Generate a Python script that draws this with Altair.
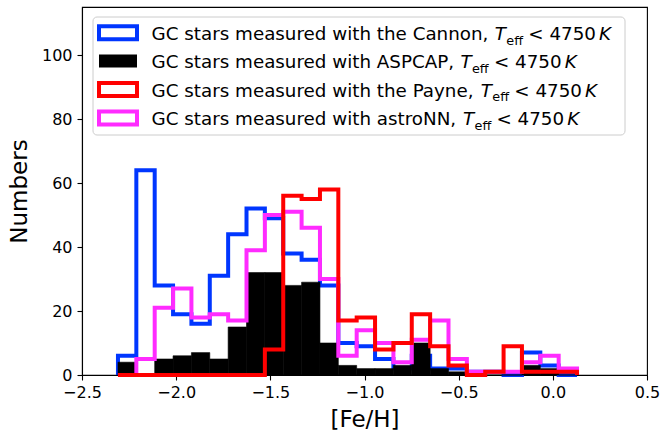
import altair as alt
import pandas as pd
import numpy as np

# ---------------- data ----------------
bin_start = -2.309
bin_width = 0.0975
n_bins = 25

cannon  = [6, 64, 28, 19, 16, 31, 44, 52, 49, 38, 36, 28, 10, 9, 5, 2, 6, 2, 2, 1, 1, 0, 7, 3, 0]
aspcap  = [4, 0, 5, 6, 7, 5, 15, 32, 32, 28, 29, 10, 3, 2, 2, 3, 10, 2, 1, 0, 0, 0, 3, 2, 0]
payne   = [0, 0, 0, 0, 0, 0, 0, 0, 8, 56, 55, 58, 17, 18, 8, 10, 19, 9, 3, 0, 1, 9, 1, 1, 1]
astronn = [0, 5, 21, 27, 18, 19, 17, 39, 50, 51, 46, 30, 6, 14, 10, 4, 11, 17, 5, 1, 1, 1, 4, 6, 2]

labels = [
    "GC stars measured with the Cannon,",
    "GC stars measured with ASPCAP,",
    "GC stars measured with the Payne,",
    "GC stars measured with astroNN,",
]
x_ticks = [-2.5, -2.0, -1.5, -1.0, -0.5, 0.0, 0.5]
y_ticks = [0, 20, 40, 60, 80, 100]

# ---------------- styles ----------------
BLUE = "#0036ff"
RED = "#ff0000"
MAGENTA = "#ff2bff"
FONT = "DejaVu Sans"

edges = bin_start + bin_width * np.arange(n_bins + 1)

xscale = alt.Scale(domain=[-2.5, 0.5], nice=False, zero=False)
yscale = alt.Scale(domain=[0, 115], nice=False)
xaxis = alt.Axis(values=x_ticks, format=".1f", labelExpr="replace(datum.label, '-', '\u2212')",
                 labelFlush=False, labelPadding=4, titlePadding=8, labelOverlap=False)
yaxis = alt.Axis(values=y_ticks, format="d", labelPadding=5, titlePadding=10)


def X(field):
    return alt.X(field, type="quantitative", scale=xscale, axis=xaxis, title="[Fe/H]")


def Y(field):
    return alt.Y(field, type="quantitative", scale=yscale, axis=yaxis, title="Numbers")


def step_df(counts):
    xs = [edges[0]] + list(edges[:-1]) + [edges[-1]]
    ys = [0] + list(counts) + [0]
    return pd.DataFrame({"x": xs, "y": ys, "i": list(range(len(xs)))})


def step_layer(counts, color):
    return alt.Chart(step_df(counts)).mark_line(
        interpolate="step-after", color=color, strokeWidth=4,
        strokeJoin="miter", strokeCap="butt"
    ).encode(x=X("x"), y=Y("y"), order=alt.Order("i:Q"))


bars_df = pd.DataFrame({"l": edges[:-1], "r": edges[1:], "c": aspcap})
black_layer = alt.Chart(bars_df).mark_rect(fill="black", stroke="black", strokeWidth=0.6).encode(
    x=X("l"), x2="r", y=Y("c"), y2=alt.datum(0)
)

layers = [
    step_layer(cannon, BLUE),
    black_layer,
    step_layer(astronn, MAGENTA),
    step_layer(payne, RED),
]

# ---------------- legend (layout in view pixels) ----------------
DW = {' ': 651, ',': 651, 'a': 1255, 'c': 1126, 'd': 1300, 'e': 1260, 'h': 1298, 'i': 569,
      'm': 1995, 'n': 1298, 'o': 1253, 'r': 842, 's': 1067, 't': 803, 'u': 1298, 'w': 1675,
      'y': 1212, 'p': 1300, 'A': 1401, 'C': 1430, 'G': 1577, 'N': 1532, 'P': 1235, 'S': 1300,
      'f': 721, '<': 1716, '4': 1303, '7': 1303, '5': 1303, '0': 1303, 'T': 1251, 'K': 1343}


def tw(s, size):
    return sum(DW.get(ch, 1250) for ch in s) / 2048.0 * size


dummy = pd.DataFrame({"d": [0]})
LF = 18.3
SUB = 12.8
box = alt.Chart(dummy).mark_rect(fill="white", fillOpacity=0.8, stroke="#cccccc",
                                 strokeWidth=1, cornerRadius=4).encode(
    x=alt.value(11), x2=alt.value(543), y=alt.value(10), y2=alt.value(128))
layers.append(box)

patch_styles = [
    dict(fill="white", stroke=BLUE, strokeWidth=4),
    dict(fill="black", strokeWidth=0),
    dict(fill="white", stroke=RED, strokeWidth=4),
    dict(fill="white", stroke=MAGENTA, strokeWidth=4),
]

text_x = 69.6
for r, lab in enumerate(labels):
    base = 33 + 28.4 * r
    pc = base - 7.3
    layers.append(alt.Chart(dummy).mark_rect(**patch_styles[r]).encode(
        x=alt.value(17), x2=alt.value(55), y=alt.value(pc - 6.5), y2=alt.value(pc + 6.5)))
    layers.append(alt.Chart(dummy).mark_text(
        text=lab, align="left", baseline="alphabetic", font=FONT, fontSize=LF, color="black"
    ).encode(x=alt.value(text_x), y=alt.value(base)))
    tx = text_x + tw(lab + " ", LF)
    layers.append(alt.Chart(dummy).mark_text(
        text="T", align="left", baseline="alphabetic", font=FONT, fontSize=LF,
        fontStyle="italic", color="black"
    ).encode(x=alt.value(tx), y=alt.value(base)))
    ex = tx + tw("T", LF) + 0.3
    layers.append(alt.Chart(dummy).mark_text(
        text="eff", align="left", baseline="alphabetic", font=FONT, fontSize=SUB, color="black"
    ).encode(x=alt.value(ex), y=alt.value(base + 4.5)))
    lx = ex + tw("eff", SUB) + 0.278 * LF
    layers.append(alt.Chart(dummy).mark_text(
        text="< 4750", align="left", baseline="alphabetic", font=FONT, fontSize=LF, color="black"
    ).encode(x=alt.value(lx), y=alt.value(base)))
    kx = lx + tw("< 4750", LF) + 0.167 * LF
    layers.append(alt.Chart(dummy).mark_text(
        text="K", align="left", baseline="alphabetic", font=FONT, fontSize=LF,
        fontStyle="italic", color="black"
    ).encode(x=alt.value(kx), y=alt.value(base)))

chart = alt.layer(*layers).properties(
    width=565, height=368,
    autosize=alt.AutoSizeParams(type="none"),
    padding={"left": 82, "top": 7, "right": 16, "bottom": 59},
).configure_view(
    stroke="black", strokeWidth=1.1
).configure_axis(
    labelFont=FONT, labelFontSize=16, labelColor="black",
    titleFont=FONT, titleFontSize=23, titleFontWeight="normal", titleColor="black",
    tickColor="black", tickWidth=1.1, tickSize=5,
    domainColor="black", domainWidth=1.1, grid=False, zindex=1
)

chart.save("out.html", embed_options={"renderer": "svg", "actions": False})
